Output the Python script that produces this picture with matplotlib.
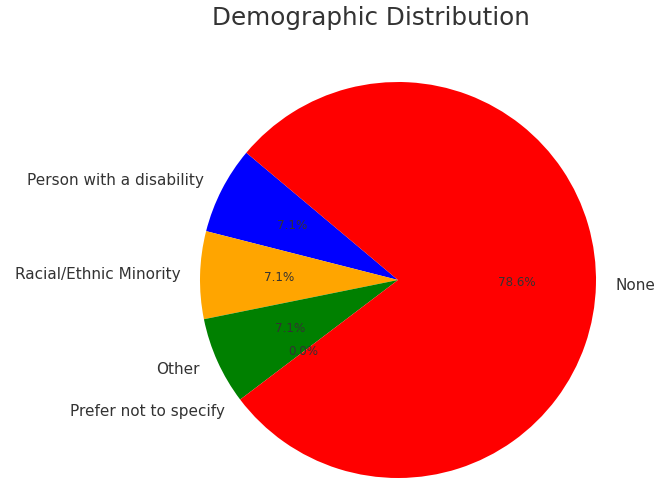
import matplotlib
matplotlib.use("Agg")
import matplotlib.pyplot as plt

categories = ["Person with a disability", "Racial/Ethnic Minority", "Other",
              "Prefer not to specify", "None"]
counts = [1, 1, 1, 0, 11]
colors = ["blue", "orange", "green", "purple", "red"]
title = "Demographic Distribution"

W, H = 656, 479
fig = plt.figure(figsize=(W / 100, H / 100), dpi=100)
R = 198
cx, cy = 398, 280
ax = fig.add_axes([(cx - R) / W, (H - cy - R) / H, 2 * R / W, 2 * R / H])

wedges, texts, autotexts = ax.pie(counts, labels=categories, colors=colors,
                                  autopct="%1.1f%%", startangle=140,
                                  textprops={"color": "#333333"})
for t in texts:
    t.set_fontsize(11)
for t in autotexts:
    t.set_fontsize(8.6)
ax.set_xlim(-1, 1)
ax.set_ylim(-1, 1)
ax.set_aspect("equal")

fig.text(370.5 / W, 1 - 25 / H, title, ha="center", va="baseline",
         fontsize=17.7, color="#333333")

fig.savefig("out.png", dpi=100)
